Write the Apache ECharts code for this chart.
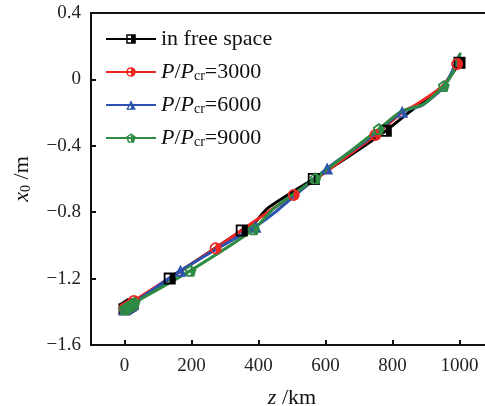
<!DOCTYPE html>
<html>
<head>
<meta charset="utf-8">
<script src="https://cdn.jsdelivr.net/npm/echarts@6/dist/echarts.min.js"></script>
<style>
  html, body { margin: 0; padding: 0; background: #fff; }
  #chart { width: 485px; height: 406px; }
</style>
</head>
<body>
<div id="chart"></div>
<script>
// 数据：z (km) 与 x0 (m)
const xTicks = [0, 200, 400, 600, 800, 1000];

// in free space
const freeMarks = [[0, -1.385], [6, -1.378], [12, -1.37], [18, -1.362], [24, -1.355],
  [135, -1.2], [350, -0.91], [565, -0.6], [780, -0.31], [1000, 0.1]];
const freePath = [[390, -0.86], [425, -0.78], [500, -0.68], [680, -0.45], [870, -0.165], [950, -0.04]];

// P/Pcr=3000
const p3000Marks = [[0, -1.38], [7, -1.372], [14, -1.364], [21, -1.355], [28, -1.335],
  [272, -1.017], [505, -0.696], [749, -0.335], [993, 0.093]];
const p3000Path = [[386, -0.857], [565, -0.61], [834, -0.19], [864, -0.16], [950, -0.04]];

// P/Pcr=6000
const p6000Marks = [[0, -1.385], [6, -1.377], [12, -1.369], [18, -1.361], [24, -1.353],
  [167, -1.152], [391, -0.887], [605, -0.536], [829, -0.195]];
const p6000Path = [[287, -1.008], [450, -0.8], [720, -0.37], [889, -0.155], [955, -0.04], [1000, 0.15]];

// P/Pcr=9000
const p9000Marks = [[0, -1.385], [5, -1.379], [10, -1.372], [15, -1.366], [20, -1.36], [25, -1.352], [30, -1.345],
  [197, -1.152], [386, -0.903], [570, -0.596], [759, -0.299], [953, -0.04]];
const p9000Path = [[446, -0.777], [824, -0.195], [894, -0.148], [980, 0.04], [1003, 0.16]];

// 半填充标记
const symSquare = 'path://M0,0L10,0L10,10L0,10Z M1.5,1.5L1.5,8.5L5,8.5L5,1.5Z';
const symCircle = 'path://M5,0A5,5,0,1,1,5,10A5,5,0,1,1,5,0Z M5,1.5A3.5,3.5,0,0,0,5,8.5L5,1.5Z';
const symTriangle = 'path://M5,0L10,10L0,10Z M5,3L2.2,8.7L5,8.7Z';
const symPentagon = 'path://M5,0L10,3.8L8.1,10L1.9,10L0,3.8Z M5,1.9L1.7,4.3L3.1,8.6L5,8.6Z';

const FONT = '"Liberation Serif", "DejaVu Serif", serif';

// 合并折线点与标记点
function buildData(marks, path) {
  const pts = marks.map(p => ({ value: p }))
    .concat(path.map(p => ({ value: p, symbol: 'none' })));
  pts.sort((a, b) => a.value[0] - b.value[0]);
  return pts;
}

function makeSeries(name, color, symbol, marks, path) {
  return {
    name: name,
    type: 'line',
    data: buildData(marks, path),
    smooth: 0.2,
    symbol: symbol,
    symbolSize: 12,
    showSymbol: true,
    itemStyle: { color: color },
    lineStyle: { color: color, width: 3 },
    emphasis: { disabled: true },
    animation: false
  };
}

const chart = echarts.init(document.getElementById('chart'), null, { renderer: 'canvas' });

const option = {
  backgroundColor: '#fff',
  textStyle: { fontFamily: FONT },
  grid: {
    left: 91, top: 13, width: 402, height: 332,
    outerBoundsMode: 'none',
    containLabel: false,
    show: true, borderColor: '#111', borderWidth: 2
  },
  legend: {
    left: 100, top: 23,
    orient: 'vertical',
    itemWidth: 50, itemHeight: 12, itemGap: 11,
    textStyle: {
      fontFamily: FONT, fontSize: 22, color: '#111',
      rich: {
        i: { fontFamily: FONT, fontSize: 22, fontStyle: 'italic', color: '#111' },
        s: { fontFamily: FONT, fontSize: 14, color: '#111', verticalAlign: 'bottom', padding: [8, 0, 0, 0] },
        n: { fontFamily: FONT, fontSize: 22, color: '#111' }
      }
    },
    formatter: function (name) {
      if (name === 'in free space') return name;
      const v = name.split('=')[1];
      return '{i|P}{n|/}{i|P}{s|cr}{n|=' + v + '}';
    },
    data: ['in free space', 'P/Pcr=3000', 'P/Pcr=6000', 'P/Pcr=9000']
  },
  xAxis: {
    type: 'value',
    min: -100, max: 1100,
    name: '{i|z} /km',
    nameLocation: 'middle',
    nameGap: 42,
    nameTextStyle: {
      fontFamily: FONT, fontSize: 22, color: '#111',
      rich: { i: { fontFamily: FONT, fontSize: 22, fontStyle: 'italic', color: '#111' } }
    },
    axisLine: { onZero: false, lineStyle: { color: '#111', width: 2 } },
    axisTick: { inside: true, length: 5, customValues: xTicks, lineStyle: { color: '#111', width: 2 } },
    axisLabel: {
      customValues: xTicks, margin: 12, fontFamily: FONT, fontSize: 19, color: '#222',
      formatter: function (v) { return String(v); }
    },
    splitLine: { show: false }
  },
  yAxis: {
    type: 'value',
    min: -1.6, max: 0.4, interval: 0.4,
    name: '{i|x}{s|0} /m',
    nameLocation: 'middle',
    nameGap: 58,
    nameTextStyle: {
      fontFamily: FONT, fontSize: 22, color: '#111',
      rich: {
        i: { fontFamily: FONT, fontSize: 22, fontStyle: 'italic', color: '#111' },
        s: { fontFamily: FONT, fontSize: 14, color: '#111', verticalAlign: 'bottom', padding: [8, 0, 0, 0] }
      }
    },
    axisLine: { onZero: false, lineStyle: { color: '#111', width: 2 } },
    axisTick: { inside: true, length: 5, lineStyle: { color: '#111', width: 2 } },
    axisLabel: {
      margin: 10, fontFamily: FONT, fontSize: 19, color: '#222',
      formatter: function (v) {
        const s = (Math.round(v * 10) / 10).toString();
        return s.replace('-', '\u2212');
      }
    },
    splitLine: { show: false }
  },
  series: [
    makeSeries('in free space', '#000000', symSquare, freeMarks, freePath),
    makeSeries('P/Pcr=3000', '#ee2722', symCircle, p3000Marks, p3000Path),
    makeSeries('P/Pcr=6000', '#2b52b0', symTriangle, p6000Marks, p6000Path),
    makeSeries('P/Pcr=9000', '#2e8b43', symPentagon, p9000Marks, p9000Path)
  ]
};

chart.setOption(option);
</script>
</body>
</html>
